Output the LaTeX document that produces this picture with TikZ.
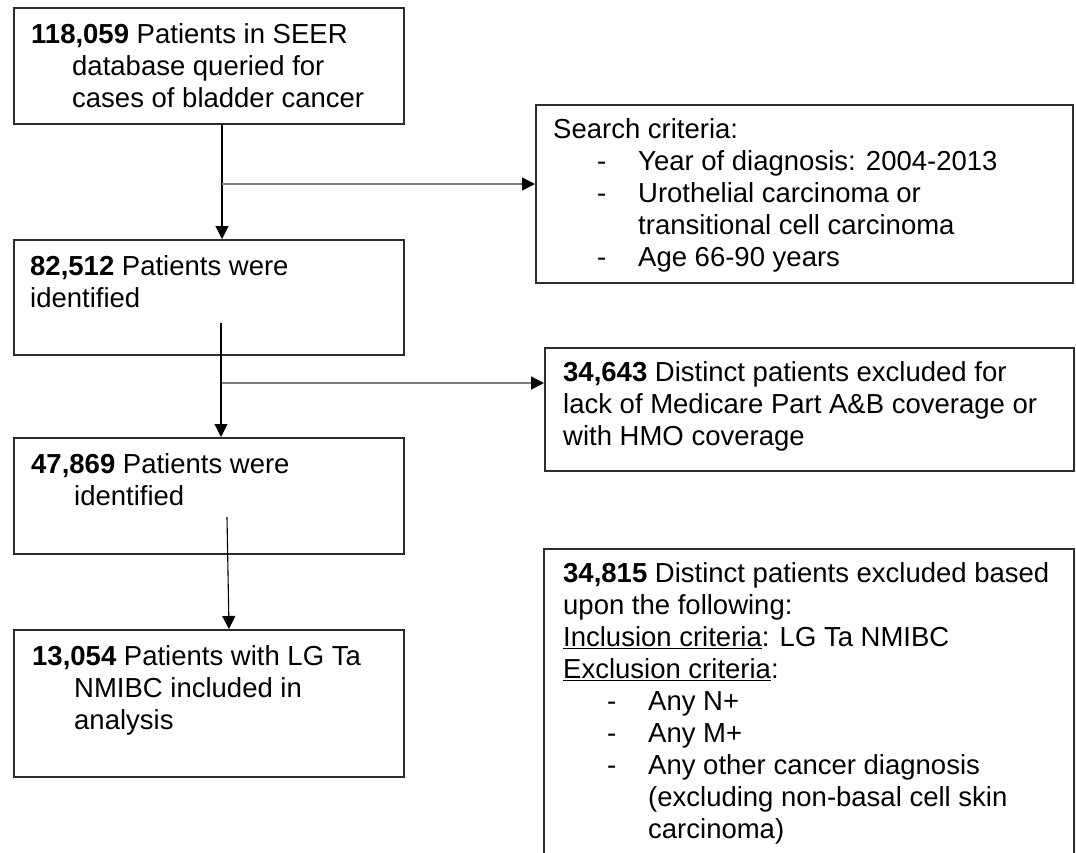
\documentclass[tikz,border=0pt]{standalone}
\usepackage{fontspec}
\setmainfont{Liberation Sans}
\usetikzlibrary{arrows.meta,positioning,calc}
\definecolor{boxgray}{RGB}{45,45,45}
\definecolor{branchgray}{RGB}{125,125,125}
\newcommand{\critem}[1]{\hspace*{44pt}\makebox[41pt][l]{-}#1}
\newcommand{\critcont}[1]{\hspace*{85pt}#1}
\tikzset{
  flowbox/.style={draw=boxgray,line width=1.8pt,anchor=north west,inner sep=0pt},
  flowtext/.style={anchor=north west,inner sep=0pt,align=left,
    font=\fontsize{27.5}{32}\selectfont},
  downarrow/.style={-{Triangle[length=13pt,width=13pt]},line width=1.1pt,draw=black},
  sidearrow/.style={-{Triangle[length=13pt,width=13pt,color=black]},line width=1.4pt,draw=branchgray}
}
\begin{document}
\begin{tikzpicture}[x=1pt,y=-1pt]
  \useasboundingbox[fill=white] (0,0) rectangle (1076,852);
  \clip (0,0) rectangle (1076,852);
  % left column
  \node[flowbox,minimum width=390pt,minimum height=116pt] (seer) at (13,7) {};
  \node[flowbox,minimum width=390pt,minimum height=115pt] (ident1) at (13,239) {};
  \node[flowbox,minimum width=390pt,minimum height=116pt] (ident2) at (13,437) {};
  \node[flowbox,minimum width=390pt,minimum height=147pt] (final) at (13,629) {};
  % right column
  \node[flowbox,minimum width=537pt,minimum height=178pt] (search) at (535,104) {};
  \node[flowbox,minimum width=529pt,minimum height=123pt] (excl1) at (544,347) {};
  \node[flowbox,minimum width=530pt,minimum height=330pt] (excl2) at (543,548) {};
  % texts
  \node[flowtext] (seertxt) at (31,23.5)
    {\textbf{118,059} Patients in SEER\\
     \hspace*{41pt}database queried for\\
     \hspace*{41pt}cases of bladder cancer};
  \node[flowtext] (ident1txt) at (30,255.5)
    {\textbf{82,512} Patients were\\identified};
  \node[flowtext] (ident2txt) at (31,453.5)
    {\textbf{47,869} Patients were\\
     \hspace*{43pt}identified};
  \node[flowtext] (finaltxt) at (32,645.5)
    {\textbf{13,054} Patients with LG Ta\\
     \hspace*{42pt}NMIBC included in\\
     \hspace*{42pt}analysis};
  \node[flowtext] (searchtxt) at (553,118.5)
    {Search criteria:\\
     \critem{Year of diagnosis: 2004-2013}\\
     \critem{Urothelial carcinoma or}\\
     \critcont{transitional cell carcinoma}\\
     \critem{Age 66-90 years}};
  \node[flowtext] (excl1txt) at (563,361.5)
    {\textbf{34,643} Distinct patients excluded for\\
     lack of Medicare Part A\&B coverage or\\
     with HMO coverage};
  \node[flowtext] (excl2txt) at (563,562.5)
    {\textbf{34,815} Distinct patients excluded based\\
     upon the following:\\
     \underline{Inclusion criteria}: LG Ta NMIBC\\
     \underline{Exclusion criteria}:\\
     \critem{Any N+}\\
     \critem{Any M+}\\
     \critem{Any other cancer diagnosis}\\
     \critcont{(excluding non-basal cell skin}\\
     \critcont{carcinoma)}};
  % connectors
  \coordinate (split1) at (222,184);
  \coordinate (start2) at (221,323);
  \coordinate (split2) at (222,383);
  \coordinate (start3) at (227,517);
  \draw[downarrow] (seer.south -| split1) -- (ident1.north -| split1);
  \draw[sidearrow] (split1) -- (split1 -| search.west);
  \draw[downarrow] (start2) -- (ident2.north -| start2);
  \draw[sidearrow] (split2) -- (split2 -| excl1.west);
  \draw[downarrow] (start3) -- ([xshift=2pt]final.north -| start3);
\end{tikzpicture}
\end{document}
